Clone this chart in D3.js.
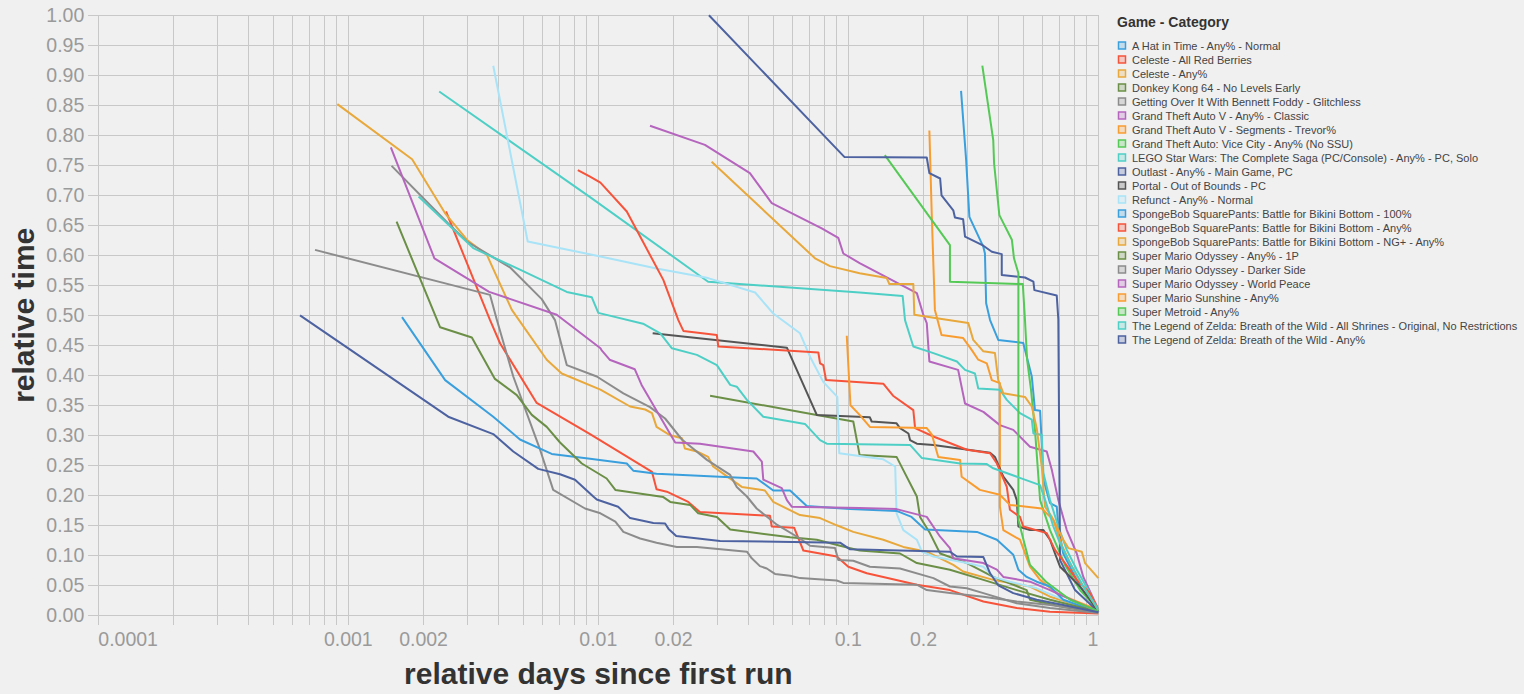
<!DOCTYPE html>
<html><head><meta charset="utf-8">
<script src="https://cdn.jsdelivr.net/npm/d3@7"></script>
<style>html,body{margin:0;padding:0;background:#f0f0f0;} svg{display:block;}</style>
</head><body>
<svg id="chart" width="1524" height="694"></svg>
<script>
const seriesNames = [
  "A Hat in Time - Any% - Normal",
  "Celeste - All Red Berries",
  "Celeste - Any%",
  "Donkey Kong 64 - No Levels Early",
  "Getting Over It With Bennett Foddy - Glitchless",
  "Grand Theft Auto V - Any% - Classic",
  "Grand Theft Auto V - Segments - Trevor%",
  "Grand Theft Auto: Vice City - Any% (No SSU)",
  "LEGO Star Wars: The Complete Saga (PC/Console) - Any% - PC, Solo",
  "Outlast - Any% - Main Game, PC",
  "Portal - Out of Bounds - PC",
  "Refunct - Any% - Normal",
  "SpongeBob SquarePants: Battle for Bikini Bottom - 100%",
  "SpongeBob SquarePants: Battle for Bikini Bottom - Any%",
  "SpongeBob SquarePants: Battle for Bikini Bottom - NG+ - Any%",
  "Super Mario Odyssey - Any% - 1P",
  "Super Mario Odyssey - Darker Side",
  "Super Mario Odyssey - World Peace",
  "Super Mario Sunshine - Any%",
  "Super Metroid - Any%",
  "The Legend of Zelda: Breath of the Wild - All Shrines - Original, No Restrictions",
  "The Legend of Zelda: Breath of the Wild - Any%"
];
const palette = ["#3a9fdd","#f6533a","#e8a83b","#6b8f46","#8c8c8c","#b565bd","#f99c30","#55c955","#4ecfc6","#4d62a0","#555555","#a8e3f7"];

// [relative days since first run, relative time]
const hatInTime = [[0.2825,0.874],[0.296,0.759],[0.305,0.664],[0.347,0.614],[0.352,0.603],[0.356,0.52],[0.369,0.492],[0.398,0.459],[0.501,0.454],[0.542,0.398],[0.558,0.342],[0.585,0.341],[0.594,0.287],[0.603,0.226],[0.641,0.187],[0.682,0.181],[0.692,0.148],[0.724,0.103],[0.771,0.081],[0.845,0.048],[0.926,0.026],[1,0.006]];
const celesteARB = [[0.00246,0.673],[0.00369,0.492],[0.00405,0.453],[0.00567,0.354],[0.00927,0.302],[0.0164,0.239],[0.0171,0.21],[0.0188,0.206],[0.0229,0.189],[0.0255,0.172],[0.0486,0.166],[0.0494,0.148],[0.0607,0.146],[0.0661,0.108],[0.0899,0.098],[0.1,0.081],[0.1186,0.07],[0.138,0.064],[0.188,0.051],[0.255,0.042],[0.347,0.023],[0.472,0.012],[0.641,0.006],[1,0.003]];
const celesteAny = [[0.000904,0.852],[0.0018,0.76],[0.00244,0.67],[0.00298,0.626],[0.00358,0.601],[0.00451,0.509],[0.00622,0.426],[0.00714,0.403],[0.0102,0.376],[0.0134,0.348],[0.0154,0.343],[0.0164,0.337],[0.0171,0.314],[0.0194,0.3],[0.0216,0.295],[0.0222,0.278],[0.0248,0.273],[0.0275,0.264],[0.0288,0.248],[0.0321,0.234],[0.0375,0.214],[0.0464,0.208],[0.0501,0.189],[0.0641,0.167],[0.0771,0.162],[0.0899,0.15],[0.1047,0.139],[0.138,0.126],[0.166,0.114],[0.206,0.106],[0.263,0.084],[0.288,0.073],[0.38,0.059],[0.533,0.048],[0.641,0.031],[0.871,0.014],[1,0.006]];
const dk64 = [[0.028,0.366],[0.0748,0.334],[0.1047,0.323],[0.111,0.267],[0.156,0.264],[0.166,0.242],[0.188,0.198],[0.1936,0.164],[0.212,0.137],[0.233,0.103],[0.298,0.087],[0.38,0.064],[0.517,0.042],[0.533,0.026],[0.724,0.014],[1,0.005]];
const gettingOverIt = [[0.000736,0.609],[0.00369,0.534],[0.00393,0.492],[0.00457,0.398],[0.00585,0.276],[0.0066,0.209],[0.00885,0.178],[0.0102,0.17],[0.0117,0.156],[0.0126,0.139],[0.0147,0.128],[0.0171,0.121],[0.0206,0.114],[0.0248,0.114],[0.0393,0.106],[0.0411,0.095],[0.0443,0.082],[0.0472,0.078],[0.0509,0.069],[0.0585,0.066],[0.0641,0.062],[0.0899,0.058],[0.0955,0.054],[0.188,0.051],[0.206,0.042],[0.255,0.037],[0.347,0.031],[0.472,0.023],[0.641,0.017],[1,0.006]];
const gtaClassic = [[0.0161,0.816],[0.0267,0.784],[0.0404,0.737],[0.0494,0.687],[0.0783,0.645],[0.0912,0.629],[0.0955,0.603],[0.111,0.587],[0.188,0.537],[0.1995,0.501],[0.206,0.487],[0.211,0.423],[0.275,0.409],[0.293,0.353],[0.347,0.339],[0.404,0.317],[0.457,0.309],[0.533,0.281],[0.622,0.273],[0.652,0.242],[0.692,0.192],[0.748,0.142],[0.82,0.103],[0.871,0.064],[0.99,0.014],[1,0.005]];
const gtaTrevor = [[0.211,0.808],[0.216,0.659],[0.222,0.509],[0.236,0.467],[0.288,0.462],[0.312,0.442],[0.331,0.426],[0.358,0.42],[0.375,0.392],[0.404,0.387],[0.404,0.181],[0.417,0.142],[0.486,0.126],[0.533,0.081],[0.585,0.059],[0.682,0.037],[0.82,0.023],[1,0.009]];
const viceCity = [[0.14,0.767],[0.255,0.617],[0.255,0.556],[0.499,0.552],[0.509,0.492],[0.519,0.426],[0.538,0.376],[0.558,0.309],[0.585,0.192],[0.641,0.142],[0.736,0.084],[0.845,0.042],[1,0.009]];
const legoStarWars = [[0.00231,0.873],[0.00927,0.697],[0.0275,0.556],[0.111,0.538],[0.165,0.532],[0.1686,0.492],[0.182,0.448],[0.219,0.437],[0.272,0.423],[0.293,0.409],[0.321,0.403],[0.331,0.378],[0.404,0.376],[0.4305,0.359],[0.486,0.337],[0.542,0.326],[0.55,0.303],[0.594,0.301],[0.603,0.237],[0.641,0.192],[0.692,0.148],[0.748,0.109],[0.82,0.076],[0.926,0.037],[1,0.009]];
const outlast = [[0.0277,1.0],[0.0964,0.764],[0.206,0.763],[0.211,0.737],[0.233,0.728],[0.236,0.7],[0.263,0.675],[0.267,0.663],[0.288,0.66],[0.293,0.631],[0.347,0.616],[0.375,0.606],[0.411,0.602],[0.411,0.567],[0.509,0.563],[0.55,0.556],[0.555,0.542],[0.682,0.533],[0.692,0.493],[0.703,0.092],[0.807,0.042],[1,0.006]];
const portal = [[0.0165,0.47],[0.0568,0.446],[0.0748,0.334],[0.122,0.33],[0.124,0.323],[0.156,0.32],[0.161,0.312],[0.174,0.303],[0.1766,0.292],[0.188,0.286],[0.219,0.284],[0.369,0.271],[0.386,0.264],[0.417,0.231],[0.457,0.209],[0.472,0.192],[0.479,0.148],[0.533,0.142],[0.603,0.142],[0.641,0.126],[0.671,0.103],[0.703,0.081],[0.748,0.07],[0.845,0.048],[0.926,0.026],[1,0.006]];
const refunct = [[0.0038,0.916],[0.00522,0.623],[0.0102,0.598],[0.0171,0.578],[0.0275,0.562],[0.0424,0.538],[0.0501,0.503],[0.0641,0.47],[0.0703,0.431],[0.0794,0.389],[0.0904,0.364],[0.092,0.27],[0.138,0.26],[0.154,0.248],[0.156,0.17],[0.166,0.142],[0.188,0.126],[0.197,0.106],[0.219,0.098],[0.298,0.087],[0.347,0.081],[0.38,0.064],[0.443,0.056],[0.567,0.045],[0.724,0.026],[1,0.006]];
const sb100 = [[0.00164,0.497],[0.00244,0.392],[0.0038,0.331],[0.00486,0.293],[0.00651,0.269],[0.00927,0.261],[0.013,0.253],[0.0138,0.241],[0.0171,0.236],[0.043,0.228],[0.0501,0.208],[0.0585,0.208],[0.0682,0.182],[0.1016,0.177],[0.156,0.174],[0.179,0.164],[0.203,0.143],[0.327,0.139],[0.393,0.126],[0.457,0.101],[0.479,0.076],[0.517,0.064],[0.567,0.056],[0.641,0.048],[0.724,0.026],[0.871,0.014],[1,0.005]];
const sbAny = [[0.00828,0.742],[0.00927,0.731],[0.0102,0.721],[0.013,0.673],[0.0182,0.559],[0.0209,0.492],[0.0219,0.474],[0.0298,0.467],[0.0302,0.448],[0.0759,0.438],[0.0771,0.42],[0.0794,0.417],[0.0815,0.392],[0.138,0.386],[0.151,0.366],[0.182,0.342],[0.185,0.312],[0.219,0.298],[0.298,0.276],[0.369,0.27],[0.393,0.253],[0.4305,0.214],[0.443,0.176],[0.486,0.164],[0.501,0.148],[0.622,0.137],[0.671,0.109],[0.736,0.087],[0.82,0.059],[0.926,0.037],[1,0.009]];
const sbNgPlus = [[0.0284,0.756],[0.0736,0.595],[0.0845,0.582],[0.111,0.57],[0.1425,0.562],[0.146,0.552],[0.182,0.552],[0.1837,0.501],[0.226,0.495],[0.302,0.487],[0.316,0.459],[0.347,0.44],[0.386,0.437],[0.398,0.392],[0.417,0.37],[0.509,0.364],[0.542,0.348],[0.567,0.312],[0.594,0.248],[0.612,0.181],[0.652,0.164],[0.724,0.126],[0.759,0.112],[0.859,0.106],[0.885,0.087],[0.99,0.064],[1,0.062]];
const smo1P = [[0.00156,0.656],[0.00233,0.48],[0.00312,0.463],[0.00386,0.394],[0.00472,0.367],[0.00542,0.334],[0.00622,0.314],[0.00703,0.288],[0.00859,0.253],[0.0108,0.228],[0.0117,0.209],[0.0182,0.197],[0.0194,0.189],[0.0233,0.184],[0.0251,0.17],[0.0298,0.164],[0.0337,0.143],[0.0585,0.13],[0.0748,0.126],[0.0927,0.116],[0.111,0.108],[0.161,0.103],[0.188,0.087],[0.255,0.076],[0.347,0.059],[0.472,0.042],[0.641,0.026],[1,0.006]];
const smoDarkerSide = [[0.00149,0.749],[0.00251,0.653],[0.00298,0.623],[0.00443,0.58],[0.00594,0.527],[0.00671,0.492],[0.00748,0.417],[0.00986,0.398],[0.0126,0.37],[0.0161,0.347],[0.0185,0.328],[0.0216,0.293],[0.0272,0.259],[0.0337,0.234],[0.0358,0.214],[0.0393,0.198],[0.043,0.178],[0.0518,0.151],[0.0641,0.128],[0.0703,0.116],[0.0885,0.112],[0.0912,0.092],[0.1047,0.091],[0.122,0.081],[0.161,0.078],[0.219,0.062],[0.255,0.048],[0.298,0.045],[0.347,0.037],[0.472,0.02],[0.641,0.012],[1,0.004]];
const smoWorldPeace = [[0.00148,0.78],[0.00221,0.595],[0.00366,0.539],[0.00682,0.501],[0.0102,0.445],[0.0103,0.442],[0.0111,0.426],[0.014,0.41],[0.0149,0.384],[0.0203,0.288],[0.0255,0.286],[0.0417,0.273],[0.0451,0.256],[0.0457,0.226],[0.0542,0.212],[0.0568,0.192],[0.0594,0.181],[0.111,0.179],[0.156,0.177],[0.206,0.164],[0.233,0.131],[0.255,0.112],[0.263,0.095],[0.347,0.087],[0.393,0.076],[0.417,0.064],[0.533,0.056],[0.641,0.042],[0.871,0.017],[1,0.006]];
const sunshine = [[0.0986,0.466],[0.102,0.35],[0.111,0.334],[0.122,0.314],[0.206,0.312],[0.216,0.301],[0.229,0.264],[0.28,0.259],[0.284,0.231],[0.336,0.209],[0.404,0.201],[0.443,0.184],[0.594,0.178],[0.661,0.159],[0.714,0.117],[0.783,0.081],[0.871,0.048],[1,0.009]];
const superMetroid = [[0.3436,0.916],[0.38,0.792],[0.383,0.753],[0.402,0.667],[0.451,0.626],[0.46,0.595],[0.479,0.57],[0.479,0.159],[0.533,0.084],[0.618,0.056],[0.771,0.026],[1,0.007]];
const zeldaShrines = [[0.00191,0.698],[0.00316,0.612],[0.00486,0.576],[0.00748,0.539],[0.00942,0.53],[0.01,0.504],[0.0151,0.486],[0.0177,0.47],[0.0197,0.445],[0.0248,0.434],[0.0298,0.417],[0.0337,0.384],[0.0358,0.381],[0.0393,0.359],[0.0457,0.331],[0.0671,0.319],[0.0771,0.292],[0.082,0.286],[0.1766,0.284],[0.197,0.262],[0.28,0.253],[0.358,0.252],[0.38,0.245],[0.585,0.217],[0.622,0.184],[0.661,0.148],[0.703,0.12],[0.771,0.087],[0.871,0.048],[1,0.009]];
const zeldaAny = [[0.000641,0.5],[0.00251,0.331],[0.0038,0.302],[0.00457,0.273],[0.00575,0.244],[0.00703,0.235],[0.00807,0.226],[0.00955,0.198],[0.00986,0.193],[0.012,0.181],[0.0134,0.162],[0.0166,0.154],[0.0185,0.153],[0.0191,0.144],[0.0205,0.132],[0.0307,0.124],[0.0927,0.121],[0.1016,0.11],[0.255,0.106],[0.272,0.098],[0.347,0.097],[0.369,0.07],[0.398,0.05],[0.457,0.037],[0.567,0.026],[0.724,0.017],[1,0.005]];

const seriesValues = [hatInTime, celesteARB, celesteAny, dk64, gettingOverIt, gtaClassic, gtaTrevor, viceCity, legoStarWars, outlast, portal, refunct, sb100, sbAny, sbNgPlus, smo1P, smoDarkerSide, smoWorldPeace, sunshine, superMetroid, zeldaShrines, zeldaAny];

const xTickValues = [0.0001, 0.001, 0.002, 0.01, 0.02, 0.1, 0.2, 1];
const xTickLabels = ["0.0001", "0.001", "0.002", "0.01", "0.02", "0.1", "0.2", "1"];
const yTickValues = [0,0.05,0.1,0.15,0.2,0.25,0.3,0.35,0.4,0.45,0.5,0.55,0.6,0.65,0.7,0.75,0.8,0.85,0.9,0.95,1];
const yTickLabels = ["0.00","0.05","0.10","0.15","0.20","0.25","0.30","0.35","0.40","0.45","0.50","0.55","0.60","0.65","0.70","0.75","0.80","0.85","0.90","0.95","1.00"];

const FONT = "'Liberation Sans', Arial, Helvetica, sans-serif";
const svg = d3.select("#chart");
const L = 98.3, R = 1098.3, T = 15.3, B = 615.3;
const x = d3.scaleLog().domain([0.0001, 1]).range([L, R]);
const y = d3.scaleLinear().domain([0, 1]).range([B, T]);
const color = d3.scaleOrdinal().domain(seriesNames).range(palette);

svg.append("rect").attr("width", 1524).attr("height", 694).attr("fill", "#f0f0f0");

// grid
const grid = svg.append("g").attr("stroke", "#c8c8c8").attr("stroke-width", 1).attr("shape-rendering", "crispEdges");
grid.selectAll("line.v").data(x.ticks()).join("line").attr("class","v")
  .attr("x1", d => x(d)).attr("x2", d => x(d)).attr("y1", T).attr("y2", B + 10);
grid.selectAll("line.h").data(yTickValues).join("line").attr("class","h")
  .attr("x1", L - 10).attr("x2", R).attr("y1", d => y(d)).attr("y2", d => y(d));

// y labels
svg.append("g").selectAll("text").data(yTickValues).join("text")
  .attr("x", L - 14).attr("y", d => y(d) + 7)
  .attr("text-anchor", "end").attr("font-family", FONT).attr("font-size", 19.5).attr("fill", "#9a9a9a")
  .text((d, i) => yTickLabels[i]);

// x labels
svg.append("g").selectAll("text").data(xTickValues).join("text")
  .attr("x", d => x(d)).attr("y", 646)
  .attr("text-anchor", (d, i) => i === 0 ? "start" : (i === xTickValues.length - 1 ? "end" : "middle"))
  .attr("font-family", FONT).attr("font-size", 19.5).attr("fill", "#9a9a9a")
  .text((d, i) => xTickLabels[i]);

// axis titles
svg.append("text").attr("x", (L + R) / 2).attr("y", 684).attr("text-anchor", "middle")
  .attr("font-family", FONT).attr("font-weight", "bold").attr("font-size", 30).attr("fill", "#333")
  .text("relative days since first run");
svg.append("text").attr("transform", `translate(34,${(T + B) / 2}) rotate(-90)`).attr("text-anchor", "middle")
  .attr("font-family", FONT).attr("font-weight", "bold").attr("font-size", 30).attr("fill", "#333")
  .text("relative time");

// lines
const line = d3.line().x(d => x(d[0])).y(d => y(d[1]));
svg.append("g").selectAll("path").data(seriesValues).join("path")
  .attr("d", line).attr("fill", "none")
  .attr("stroke", (d, i) => color(seriesNames[i]))
  .attr("stroke-width", 2).attr("stroke-linejoin", "round");

// legend
const lg = svg.append("g").attr("transform", "translate(1117,0)");
lg.append("text").attr("x", 0).attr("y", 26.7).attr("font-family", FONT).attr("font-weight", "bold")
  .attr("font-size", 14).attr("fill", "#333").text("Game - Category");
const items = lg.selectAll("g.item").data(seriesNames).join("g").attr("class", "item")
  .attr("transform", (d, i) => `translate(0,${45.5 + i * 14})`);
items.append("rect").attr("x", 1.5).attr("y", -3.5).attr("width", 7).attr("height", 7)
  .attr("fill", d => color(d)).attr("fill-opacity", 0.25)
  .attr("stroke", d => color(d)).attr("stroke-width", 1.5);
items.append("text").attr("x", 15).attr("y", 4).attr("font-family", FONT).attr("font-size", 11)
  .attr("fill", "#444").text(d => d);
</script>
</body></html>
